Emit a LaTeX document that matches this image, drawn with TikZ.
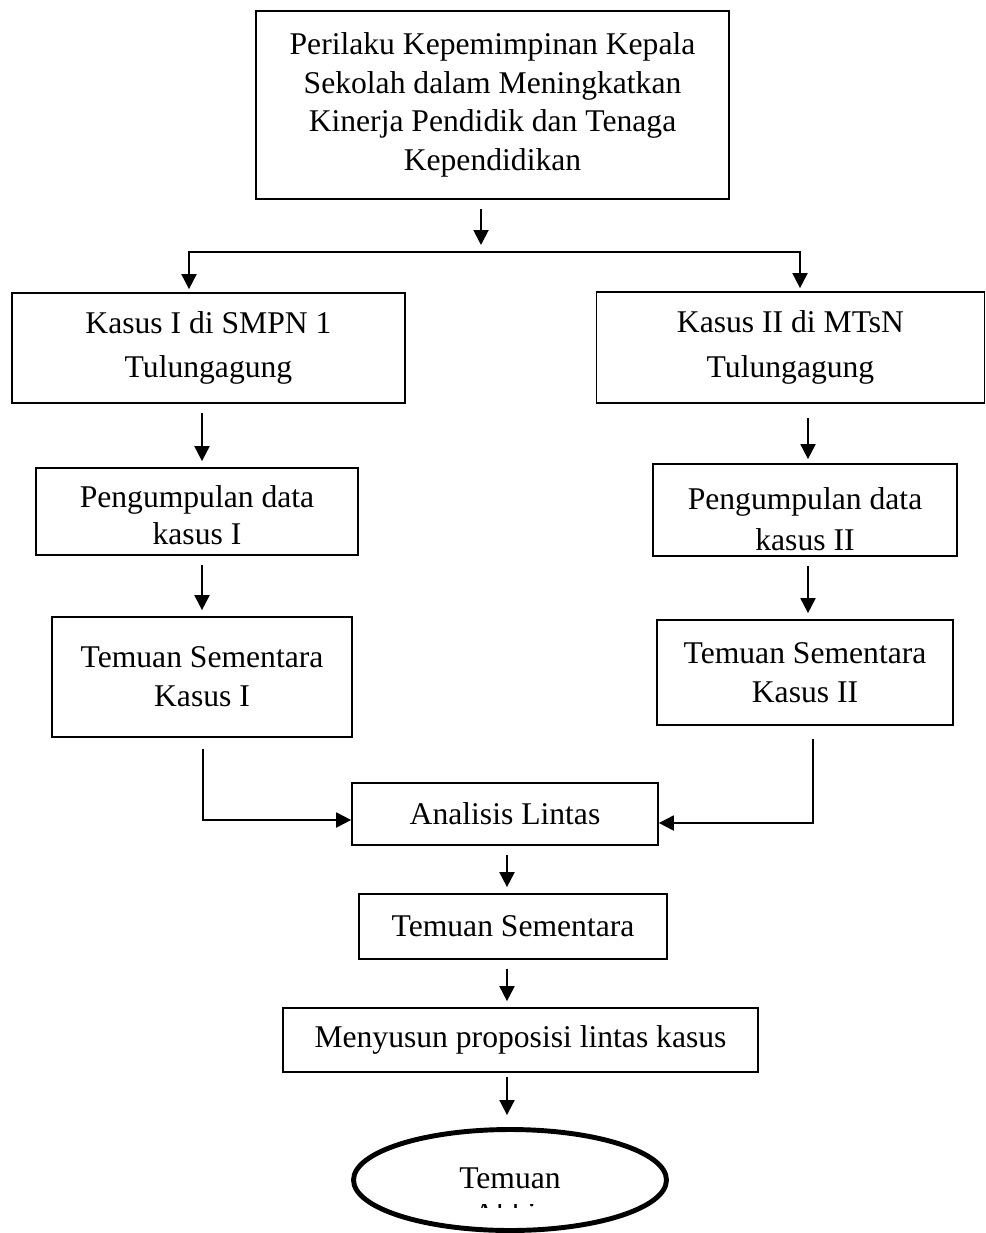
\documentclass[tikz,border=0pt]{standalone}
\usepackage{fontspec}
\setmainfont{Liberation Serif}
\usetikzlibrary{arrows.meta,shapes.geometric}
\tikzset{
  kotak/.style={draw, line width=1pt, align=center, inner sep=0pt, font=\fontsize{18}{22}\selectfont},
  panah/.style={line width=1.1pt, -{Triangle[length=0.3cm,width=0.3cm]}},
  panahdua/.style={line width=1.1pt, {Triangle[length=0.3cm,width=0.3cm]}-{Triangle[length=0.3cm,width=0.3cm]}},
  jeda/.style={shorten <=0.18cm, shorten >=0.12cm}
}
\begin{document}
\begin{tikzpicture}[x=0.02cm, y=-0.02cm]
\useasboundingbox (0,0) rectangle (986,1233);
\def\xA{202};
\def\xB{808};
\def\xM{507};
\coordinate (kolomA) at (\xA,0);
\coordinate (kolomB) at (\xB,0);
\coordinate (kolomM) at (\xM,0);
% kotak-kotak
\node[kotak, minimum width=9.46cm, minimum height=3.76cm] (judul) at (492.5,105) {Perilaku Kepemimpinan Kepala\\Sekolah dalam Meningkatkan\\Kinerja Pendidik dan Tenaga\\Kependidikan};
\node[kotak, font=\fontsize{18}{25.5}\selectfont, minimum width=7.86cm, minimum height=2.2cm] (kasusA) at (208.5,348) {Kasus I di SMPN 1\\Tulungagung};
\node[kotak, font=\fontsize{18}{25.5}\selectfont, minimum width=7.76cm, minimum height=2.22cm] (kasusB) at (790.5,347.5) {Kasus II di MTsN\\Tulungagung};
\node[kotak, font=\fontsize{18}{21}\selectfont, minimum width=6.44cm, minimum height=1.74cm] (dataA) at (197,511.5) {\rule{0pt}{0.6cm}Pengumpulan data\\kasus I};
\node[kotak, font=\fontsize{18}{23}\selectfont, minimum width=6.08cm, minimum height=1.84cm] (dataB) at (805,510) {\rule{0pt}{0.8cm}Pengumpulan data\\kasus II};
\node[kotak, minimum width=6cm, minimum height=2.4cm] (temA) at (202,677) {Temuan Sementara\\Kasus I};
\node[kotak, minimum width=5.92cm, minimum height=2.1cm] (temB) at (805,672.5) {Temuan Sementara\\Kasus II};
\node[kotak, minimum width=6.12cm, minimum height=1.24cm] (analisis) at (505,814) {Analisis Lintas};
\node[kotak, minimum width=6.16cm, minimum height=1.3cm] (temuan) at (513,926.5) {Temuan Sementara};
\node[kotak, minimum width=9.5cm, minimum height=1.28cm] (menyusun) at (520.5,1040) {Menyusun proposisi lintas kasus};
\node[ellipse, draw, line width=2.8pt, minimum width=6.26cm, minimum height=2.02cm, inner sep=0pt, font=\fontsize{18}{22}\selectfont, text depth=0.25em] (akhir) at (510,1180) {Temuan};
% baris kedua yang terpotong
\begin{scope}
\clip (350,1204.5) rectangle (670,1207);
\node[font=\fontsize{18}{22}\selectfont, anchor=base, inner sep=0pt] (akhirB) at (510,1224) {Akhir};
\end{scope}
% panah
\coordinate (cabang) at (481,252);
\coordinate (cabangA) at (189,252);
\coordinate (cabangB) at (800,252);
\draw[panah, shorten <=0.18cm, shorten >=0.14cm] (judul.south -| cabang) -- (cabang);
\draw[panahdua, shorten <=0.06cm, shorten >=0.06cm] (kasusA.north -| cabangA) -- (cabangA) -- (cabangB) -- (kasusB.north -| cabangB);
\draw[panah, jeda] (kasusA.south -| kolomA) -- (dataA.north -| kolomA);
\draw[panah, jeda] (dataA.south -| kolomA) -- (temA.north -| kolomA);
\draw[panah, shorten <=0.28cm, shorten >=0.08cm] (kasusB.south -| kolomB) -- (dataB.north -| kolomB);
\draw[panah, jeda] (dataB.south -| kolomB) -- (temB.north -| kolomB);
\coordinate (sikuA) at (203,820);
\coordinate (sikuB) at (813,823);
\draw[panah, shorten <=0.22cm] (temA.south -| sikuA) -- (sikuA) -- (sikuA -| analisis.west);
\draw[panah, shorten <=0.26cm] (temB.south -| sikuB) -- (sikuB) -- (sikuB -| analisis.east);
\draw[panah, jeda] (analisis.south -| kolomM) -- (temuan.north -| kolomM);
\draw[panah, jeda] (temuan.south -| kolomM) -- (menyusun.north -| kolomM);
\draw[panah, shorten <=0.08cm, shorten >=0.24cm] (menyusun.south -| kolomM) -- (akhir.north -| kolomM);
\end{tikzpicture}
\end{document}
